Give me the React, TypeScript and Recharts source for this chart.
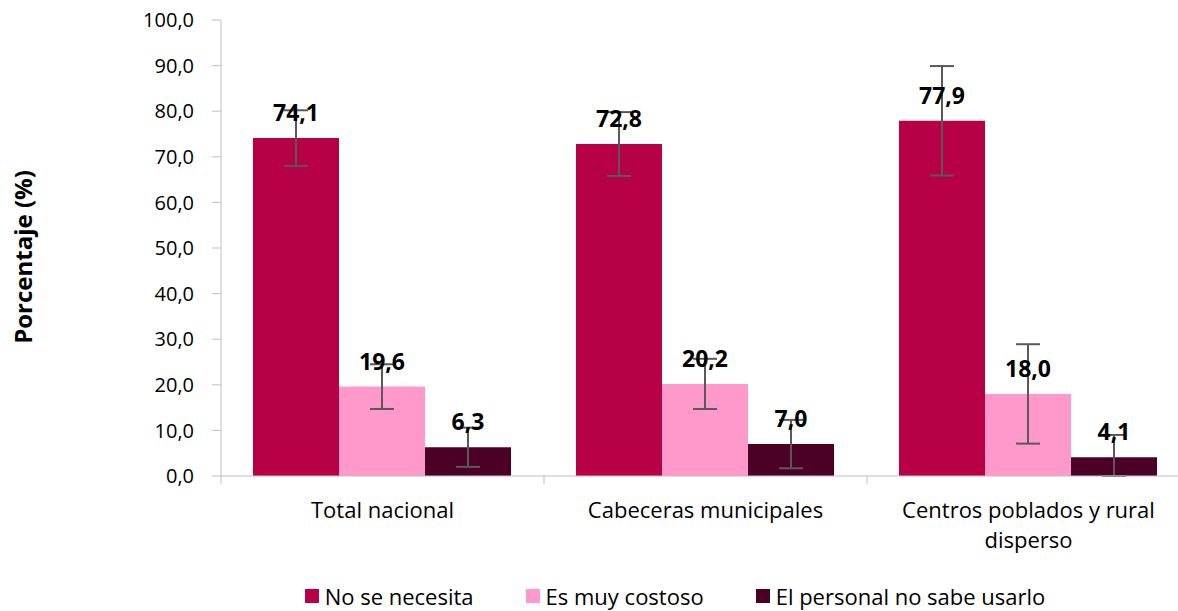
import React from 'react';
import { Bar, BarChart, ErrorBar, LabelList, Legend, XAxis, YAxis } from 'recharts';

const categories = ['Total nacional', 'Cabeceras municipales', 'Centros poblados y rural disperso'];
const seriesNames = ['No se necesita', 'Es muy costoso', 'El personal no sabe usarlo'];
const noSeNecesita = [74.1, 72.8, 77.9];
const esMuyCostoso = [19.6, 20.2, 18.0];
const personalNoSabe = [6.3, 7.0, 4.1];
const errNoSeNecesita = [6.1, 7.0, 12.0];
const errEsMuyCostoso = [4.9, 5.5, 10.9];
const errPersonalNoSabe: (number | number[])[] = [4.3, 5.3, [4.1, 4.9]];
const yTicks = [0, 10, 20, 30, 40, 50, 60, 70, 80, 90, 100];

const data = categories.map((name, i) => ({
    name,
    no: noSeNecesita[i],
    costo: esMuyCostoso[i],
    personal: personalNoSabe[i],
    errNo: errNoSeNecesita[i],
    errCosto: errEsMuyCostoso[i],
    errPersonal: errPersonalNoSabe[i],
}));

const FONT = '"Open Sans", "Noto Sans", sans-serif';
const CHART_W = 1200;
const CHART_H = 611;
const MARGIN = { top: 20, right: 10, left: 0, bottom: 0 };
const YAXIS_W = 221;
const HALF_BAND = (CHART_W - MARGIN.left - MARGIN.right - YAXIS_W) / categories.length / 2;
const AXIS_COLOR = '#bfbfbf';
const ERR_COLOR = '#595959';
const WRAP_CHARS = 26;

const fmt = (v: any) => Number(v).toFixed(1).replace('.', ',');

const valueLabelStyle = { fontSize: 23, fontWeight: 700, fontFamily: FONT, fill: '#000' };

// greedy word wrap, the way the category labels break in the original
const wrap = (s: string) => {
    const lines: string[] = [];
    let cur = '';
    s.split(' ').forEach((w) => {
        const next = cur ? cur + ' ' + w : w;
        if (next.length > WRAP_CHARS && cur) {
            lines.push(cur);
            cur = w;
        } else {
            cur = next;
        }
    });
    if (cur) lines.push(cur);
    return lines;
};

const CategoryTick = (props: any) => {
    const { x, y, payload, index } = props;
    const lines = wrap(String(payload.value));
    return (
        <g>
            <line x1={x - HALF_BAND} x2={x - HALF_BAND} y1={y} y2={y + 8} stroke={AXIS_COLOR} />
            {index === categories.length - 1 && (
                <line x1={x + HALF_BAND} x2={x + HALF_BAND} y1={y} y2={y + 8} stroke={AXIS_COLOR} />
            )}
            <text x={x} y={y + 42} textAnchor="middle" style={{ fontSize: 22, fontFamily: FONT, fill: '#000' }}>
                {lines.map((l, i) => (
                    <tspan key={i} x={x} dy={i === 0 ? 0 : 30}>
                        {l}
                    </tspan>
                ))}
            </text>
        </g>
    );
};

const YLabel = (props: any) => {
    const { viewBox } = props;
    const cx = viewBox.x + 22;
    const cy = viewBox.y + viewBox.height / 2 + 9;
    return (
        <text
            x={cx}
            y={cy}
            transform={`rotate(-90, ${cx}, ${cy})`}
            textAnchor="middle"
            dominantBaseline="central"
            style={{ fontSize: 24, fontWeight: 700, fontFamily: FONT, fill: '#000' }}
        >
            Porcentaje (%)
        </text>
    );
};

const renderLegend = (props: any) => {
    const { payload } = props;
    const items = seriesNames.map((n) => payload.find((p: any) => p.value === n)).filter(Boolean);
    return (
        <div
            style={{
                display: 'flex',
                justifyContent: 'center',
                paddingLeft: 212,
                fontFamily: FONT,
                fontSize: 22,
                lineHeight: '30px',
                color: '#000',
            }}
        >
            {items.map((e: any) => (
                <span key={e.value} style={{ display: 'inline-flex', alignItems: 'center', marginRight: 52 }}>
                    <span style={{ width: 14, height: 14, background: e.color, marginRight: 6, display: 'inline-block' }} />
                    {e.value}
                </span>
            ))}
        </div>
    );
};

export default function App() {
    return (
        <div style={{ position: 'absolute', left: 0, top: 0, width: 1178, height: 611, overflow: 'hidden', background: '#fff' }}>
            <BarChart
                width={CHART_W}
                height={CHART_H}
                data={data}
                margin={MARGIN}
                barCategoryGap={32}
                barGap={0}
            >
                <XAxis
                    dataKey="name"
                    axisLine={{ stroke: AXIS_COLOR }}
                    tickLine={false}
                    tickSize={0}
                    tickMargin={0}
                    height={105}
                    interval={0}
                    tick={<CategoryTick />}
                />
                <YAxis
                    type="number"
                    domain={[0, 100]}
                    ticks={yTicks}
                    width={YAXIS_W}
                    tickFormatter={fmt}
                    axisLine={{ stroke: AXIS_COLOR }}
                    tickLine={{ stroke: AXIS_COLOR }}
                    tickSize={9}
                    tickMargin={18}
                    tick={{ fontSize: 20, fontFamily: FONT, fill: '#000' }}
                    label={<YLabel />}
                />
                <Legend verticalAlign="bottom" height={30} content={renderLegend} />
                <Bar dataKey="no" name={seriesNames[0]} fill="#B80046" isAnimationActive={false}>
                    <ErrorBar dataKey="errNo" width={12} strokeWidth={2} stroke={ERR_COLOR} />
                    <LabelList dataKey="no" position="top" offset={17} formatter={fmt} style={valueLabelStyle} />
                </Bar>
                <Bar dataKey="costo" name={seriesNames[1]} fill="#FF99CC" isAnimationActive={false}>
                    <ErrorBar dataKey="errCosto" width={12} strokeWidth={2} stroke={ERR_COLOR} />
                    <LabelList dataKey="costo" position="top" offset={17} formatter={fmt} style={valueLabelStyle} />
                </Bar>
                <Bar dataKey="personal" name={seriesNames[2]} fill="#4D0026" isAnimationActive={false}>
                    <ErrorBar dataKey="errPersonal" width={12} strokeWidth={2} stroke={ERR_COLOR} />
                    <LabelList dataKey="personal" position="top" offset={17} formatter={fmt} style={valueLabelStyle} />
                </Bar>
            </BarChart>
        </div>
    );
}
